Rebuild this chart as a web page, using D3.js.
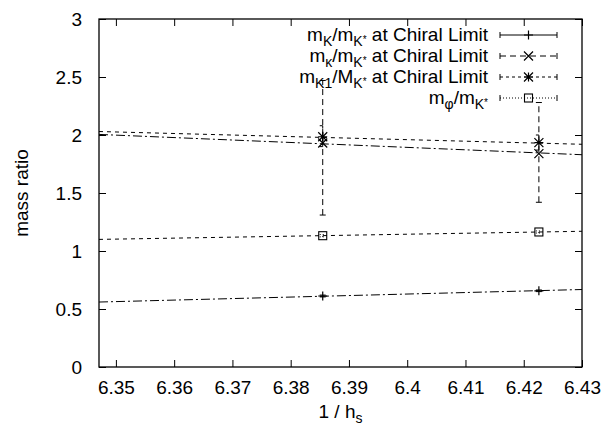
<!DOCTYPE html>
<html><head><meta charset="utf-8">
<script src="https://cdn.jsdelivr.net/npm/d3@7"></script>
<style>body{margin:0;background:#fff}svg{display:block}text{font-family:"Liberation Sans",Arial,sans-serif;fill:#000}</style>
</head><body>
<svg id="c" width="606" height="428"></svg>
<script>
const xDomain = [6.3471, 6.43];
const xTicks = [6.35, 6.36, 6.37, 6.38, 6.39, 6.40, 6.41, 6.42, 6.43];
const xTickLabels = ["6.35","6.36","6.37","6.38","6.39","6.4","6.41","6.42","6.43"];
const yTicks = [0, 0.5, 1, 1.5, 2, 2.5, 3];
const yTickLabels = ["0","0.5","1","1.5","2","2.5","3"];
const xVals = [6.3855, 6.4226];
const kRatio = [0.612, 0.657];
const kLow = [0.604, 0.650];
const kHigh = [0.620, 0.664];
const kappaRatio = [1.931, 1.840];
const kappaLow = [1.31, 1.42];
const kappaHigh = [2.47, 2.28];
const k1Ratio = [1.985, 1.934];
const k1Low = [1.90, 1.87];
const k1High = [2.08, 2.00];
const phiRatio = [1.132, 1.164];
const phiLow = [1.122, 1.155];
const phiHigh = [1.142, 1.173];
const kFit = [0.56, 0.668];
const kappaFit = [2.005, 1.83];
const k1Fit = [2.03, 1.92];
const phiFit = [1.10, 1.17];

const L = 99, R = 582, T = 19, B = 367;
const svg = d3.select("#c");
const x = d3.scaleLinear().domain(xDomain).range([L, R]);
const y = d3.scaleLinear().domain([0, 3]).range([B, T]);
const FS = 19;
const SFS = 14;

// axes (ticks inward)
const axB = d3.axisBottom(x).tickValues(xTicks).tickSize(-7).tickFormat((d,i)=>xTickLabels[i]).tickPadding(14);
const axT = d3.axisTop(x).tickValues(xTicks).tickSize(-7).tickFormat("");
const axL = d3.axisLeft(y).tickValues(yTicks).tickSize(-7).tickFormat((d,i)=>yTickLabels[i]).tickPadding(17);
const axR = d3.axisRight(y).tickValues(yTicks).tickSize(-7).tickFormat("");
function style(g){ g.select(".domain").remove(); g.selectAll("line").attr("stroke","#000").attr("stroke-width",1);
  g.selectAll("text").style("font-size",FS+"px").attr("fill","#000"); }
svg.append("g").attr("transform",`translate(0,${B})`).call(axB).call(style);
svg.append("g").attr("transform",`translate(0,${T})`).call(axT).call(style);
svg.append("g").attr("transform",`translate(${L},0)`).call(axL).call(style);
svg.append("g").attr("transform",`translate(${R},0)`).call(axR).call(style);
svg.append("rect").attr("x",L).attr("y",T).attr("width",R-L).attr("height",B-T)
  .attr("fill","none").attr("stroke","#000").attr("stroke-width",1.3);

// axis titles
svg.append("text").attr("transform",`translate(21,${(T+B)/2}) rotate(-90)`).attr("text-anchor","middle")
  .attr("dy","0.35em").style("font-size",FS+"px").text("mass ratio");
const xt = svg.append("text").attr("x",(L+R)/2).attr("y",418).attr("text-anchor","middle").style("font-size",FS+"px");
xt.append("tspan").text("1 / h");
xt.append("tspan").attr("dy",5).style("font-size",SFS+"px").text("s");

const plot = svg.append("g");
const dashDot = "9,3,2,3";
// fit lines
const fits = [[kFit,dashDot],[phiFit,"4,4"],[k1Fit,"4,4"],[kappaFit,dashDot]];
fits.forEach(([f,da])=>{
  plot.append("line").attr("x1",x(xDomain[0])).attr("x2",x(xDomain[1])).attr("y1",y(f[0])).attr("y2",y(f[1]))
    .attr("stroke","#000").attr("stroke-width",1).attr("stroke-dasharray",da);
});

// markers
function marker(g, type, cx, cy){
  const s = 4.5;
  if(type==="plus"){
    g.append("path").attr("d",`M${cx-s},${cy}H${cx+s}M${cx},${cy-s}V${cy+s}`).attr("stroke","#000").attr("stroke-width",1.2);
  } else if(type==="cross"){
    g.append("path").attr("d",`M${cx-s},${cy-s}L${cx+s},${cy+s}M${cx-s},${cy+s}L${cx+s},${cy-s}`).attr("stroke","#000").attr("stroke-width",1.2);
  } else if(type==="star"){
    g.append("path").attr("d",`M${cx-s},${cy-s}L${cx+s},${cy+s}M${cx-s},${cy+s}L${cx+s},${cy-s}M${cx-s},${cy}H${cx+s}M${cx},${cy-s}V${cy+s}`).attr("stroke","#000").attr("stroke-width",1.2);
  } else if(type==="box"){
    g.append("rect").attr("x",cx-4).attr("y",cy-4).attr("width",8).attr("height",8).attr("fill","none").attr("stroke","#000").attr("stroke-width",1.1);
  }
}
const series = [
  {vals:kRatio, lo:kLow, hi:kHigh, m:"plus", da:null},
  {vals:kappaRatio, lo:kappaLow, hi:kappaHigh, m:"cross", da:"6,4"},
  {vals:k1Ratio, lo:k1Low, hi:k1High, m:"star", da:"3,3"},
  {vals:phiRatio, lo:phiLow, hi:phiHigh, m:"box", da:"1,2"}
];
series.forEach(s=>{
  xVals.forEach((xv,i)=>{
    const cx = x(xv);
    plot.append("path").attr("d",`M${cx},${y(s.lo[i])}V${y(s.hi[i])}M${cx-3},${y(s.lo[i])}H${cx+3}M${cx-3},${y(s.hi[i])}H${cx+3}`)
      .attr("stroke","#000").attr("stroke-width",1).attr("fill","none").attr("stroke-dasharray",s.da);
    marker(plot, s.m, cx, y(s.vals[i]));
  });
});

// legend
const legRows = [
  {main:"m", sub:"K", mid:"/m", sub2:"K*", tail:" at Chiral Limit"},
  {main:"m", sub:"κ", mid:"/m", sub2:"K*", tail:" at Chiral Limit"},
  {main:"m", sub:"K1", mid:"/M", sub2:"K*", tail:" at Chiral Limit"},
  {main:"m", sub:"φ", mid:"/m", sub2:"K*", tail:""}
];
const legY = [35, 56, 77, 98];
const lx1 = 500, lx2 = 557, tx = 488;
legRows.forEach((r,i)=>{
  const yy = legY[i];
  const t = svg.append("text").attr("x",tx).attr("y",yy+6).attr("text-anchor","end").style("font-size",FS+"px");
  t.append("tspan").text(r.main);
  t.append("tspan").attr("dy",5).style("font-size",SFS+"px").text(r.sub);
  t.append("tspan").attr("dy",-5).text(r.mid);
  t.append("tspan").attr("dy",5).style("font-size",SFS+"px").text(r.sub2.slice(0,1));
  t.append("tspan").attr("dy",-3).style("font-size","10px").text("*");
  t.append("tspan").attr("dy",-2).text(r.tail);
  const s = series[i];
  svg.append("path").attr("d",`M${lx1},${yy}H${lx2}`).attr("stroke","#000").attr("stroke-width",1).attr("stroke-dasharray",s.da);
  svg.append("path").attr("d",`M${lx1},${yy-3}V${yy+3}M${lx2},${yy-3}V${yy+3}`).attr("stroke","#000").attr("stroke-width",1);
  marker(svg, s.m, (lx1+lx2)/2, yy);
});
</script>
</body></html>
